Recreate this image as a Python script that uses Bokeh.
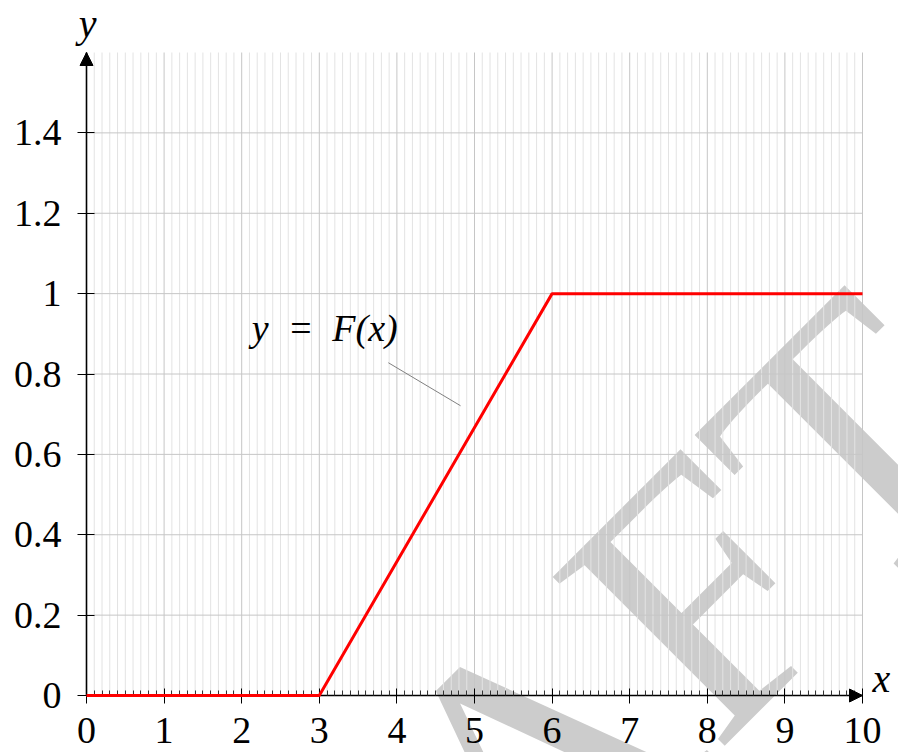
from bokeh.plotting import figure
from bokeh.models import Range1d, FixedTicker, Label, Arrow, NormalHead, LinearAxis
from bokeh.embed import file_html
from bokeh.resources import INLINE

# Distribution function of the uniform law on [3, 6]
x_vals = [0, 3, 6, 10]
F_vals = [0, 0, 1, 1]

x_ticks = list(range(11))
x_minor = [i / 10 for i in range(101) if i % 10]
y_ticks = [0, 0.2, 0.4, 0.6, 0.8, 1, 1.2, 1.4]
y_tick_labels = ["0", "0.2", "0.4", "0.6", "0.8", "1", "1.2", "1.4"]

X_MAX, Y_MAX = 10, 1.6

# annotation "y = F(x)" and its pin
note_text = "y\u2002=\u2002F(x)"
note_pos = (2.13, 0.915)
pin_start = (3.89, 0.828)
pin_end = (4.82, 0.721)

SERIF = "Liberation Serif"
W, H = 898, 752
# pixel geometry of the axes box inside the page
LEFT, RIGHT, TOP, BOTTOM = 86, 862, 52, 695
sx = (RIGHT - LEFT) / X_MAX
sy = (BOTTOM - TOP) / Y_MAX

p = figure(width=W, height=H,
           x_range=Range1d(-LEFT / sx, X_MAX + (W - RIGHT) / sx),
           y_range=Range1d(-(H - BOTTOM) / sy, Y_MAX + TOP / sy),
           x_axis_location=None, y_axis_location=None,
           output_backend="svg", toolbar_location=None, min_border=0)
p.grid.visible = False
p.outline_line_color = None
p.background_fill_color = "white"
p.border_fill_color = "white"

# watermark, underneath the grid
p.add_layout(Label(x=10.89, y=0.826, text="DRAFT", angle=45, angle_units="deg",
                   text_align="right", text_baseline="alphabetic",
                   text_font=SERIF, text_font_size="368px",
                   text_color="#cccccc", level="image"))

# grid: minor verticals, then major lines
p.segment(x0=x_minor, y0=0, x1=x_minor, y1=Y_MAX, line_color="#e3e3e3", line_width=1)
p.segment(x0=x_ticks, y0=0, x1=x_ticks, y1=Y_MAX, line_color="#c6c6c6", line_width=1)
p.segment(x0=0, y0=y_ticks[1:], x1=X_MAX, y1=y_ticks[1:], line_color="#c6c6c6", line_width=1)

# axes crossing at the origin
xaxis = LinearAxis(fixed_location=0, bounds=(0, X_MAX),
                   ticker=FixedTicker(ticks=x_ticks, minor_ticks=x_minor))
yaxis = LinearAxis(fixed_location=0, bounds=(0, Y_MAX),
                   ticker=FixedTicker(ticks=y_ticks, minor_ticks=[]),
                   major_label_overrides=dict(zip(y_ticks, y_tick_labels)))
p.add_layout(xaxis, "below")
p.add_layout(yaxis, "left")

for ax in (xaxis, yaxis):
    ax.axis_line_color = "black"
    ax.axis_line_width = 1.6
    ax.major_tick_line_color = "black"
    ax.major_tick_line_width = 1
    ax.major_label_text_font = SERIF
    ax.major_label_text_font_size = "38px"
    ax.major_label_text_color = "black"

xaxis.major_tick_in = 7
xaxis.major_tick_out = 8
xaxis.minor_tick_in = 5
xaxis.minor_tick_out = 0
xaxis.minor_tick_line_color = "#333333"
xaxis.major_label_standoff = 14

yaxis.major_tick_in = 8
yaxis.major_tick_out = 9
yaxis.minor_tick_line_color = None
yaxis.major_label_standoff = 16

# arrow heads on the axes
p.add_layout(Arrow(x_start=X_MAX - 0.1, y_start=0, x_end=X_MAX, y_end=0, line_alpha=0,
                   end=NormalHead(size=13, fill_color="black", line_color="black")))
p.add_layout(Arrow(x_start=0, y_start=Y_MAX - 0.02, x_end=0, y_end=Y_MAX, line_alpha=0,
                   end=NormalHead(size=13, fill_color="black", line_color="black")))

# axis names
p.add_layout(Label(x=10.13, y=0.042, text="x", text_font=SERIF, text_font_style="italic",
                   text_font_size="40px", text_baseline="alphabetic", text_color="black"))
p.add_layout(Label(x=-0.10, y=1.672, text="y", text_font=SERIF, text_font_style="italic",
                   text_font_size="40px", text_baseline="alphabetic", text_color="black"))

# the curve, on top of the axis line
p.line(x_vals, F_vals, line_color="red", line_width=3, level="overlay")

# annotation with pin
p.segment(x0=[pin_start[0]], y0=[pin_start[1]], x1=[pin_end[0]], y1=[pin_end[1]],
          line_color="#808080", line_width=1)
p.add_layout(Label(x=note_pos[0], y=note_pos[1], text=note_text, text_font=SERIF,
                   text_font_style="italic", text_font_size="38px",
                   text_baseline="alphabetic", text_color="black"))

open("out.html", "w").write(file_html(p, INLINE))
